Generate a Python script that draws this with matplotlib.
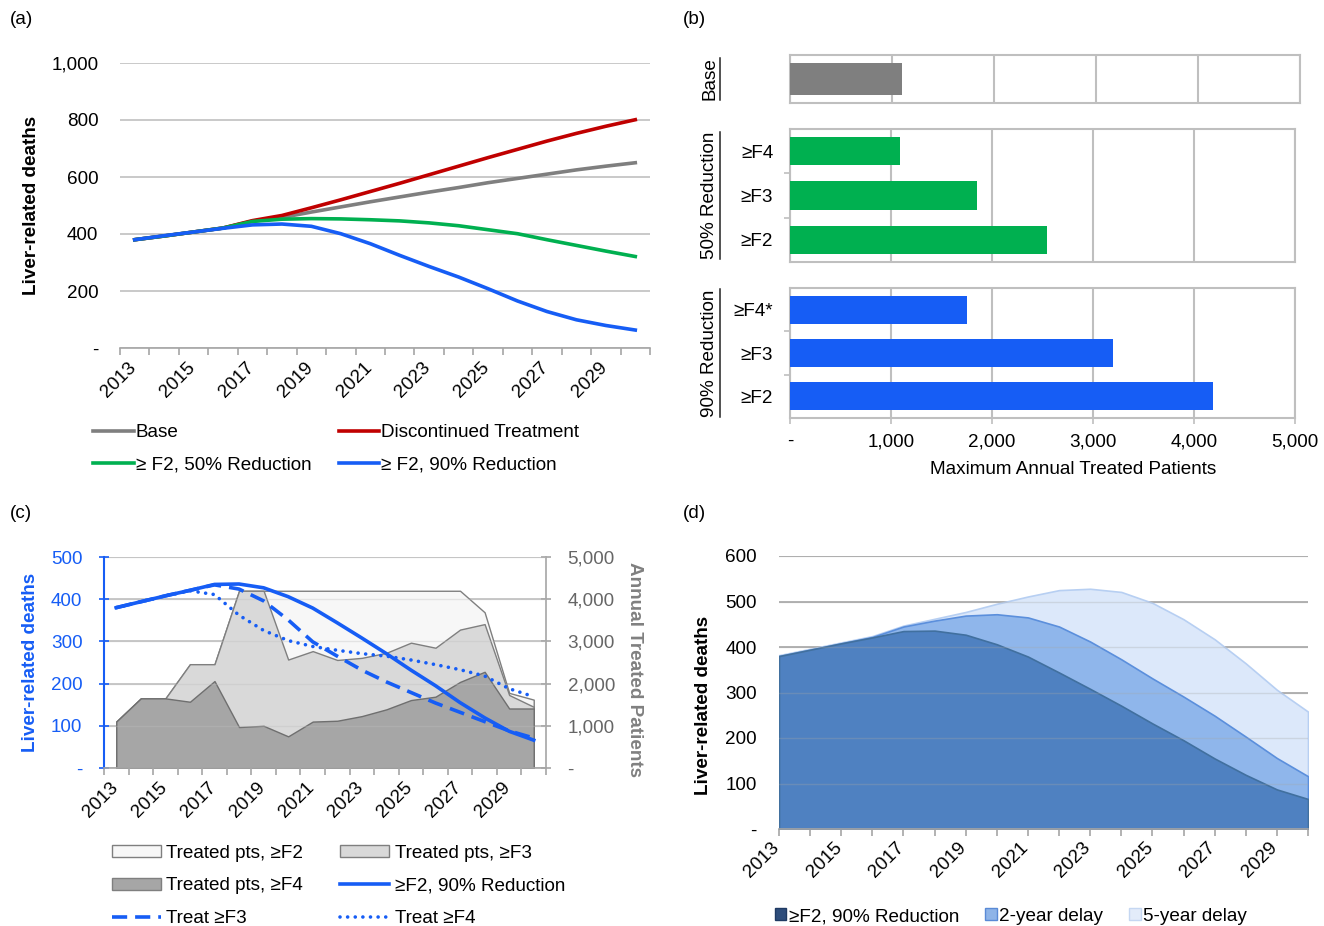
import matplotlib.pyplot as plt
from matplotlib.patches import Patch
from matplotlib.lines import Line2D
from matplotlib.ticker import FuncFormatter
from matplotlib.transforms import ScaledTranslation

plt.rcParams['font.family'] = ['Liberation Sans', 'DejaVu Sans']
plt.rcParams['font.size'] = 13.6

W, H = 1324, 926

# ---- data ----
years = list(range(2013, 2031))

# (a) liver-related deaths per scenario
base_deaths = [380, 393, 407, 421, 445, 458, 477, 495, 513, 530, 547, 563, 580, 595, 610, 625, 638, 650]
disc_deaths = [380, 393, 407, 421, 447, 465, 492, 520, 549, 578, 608, 638, 668, 697, 726, 753, 778, 801]
f2_50_deaths = [380, 393, 407, 421, 444, 452, 454, 453, 450, 446, 439, 429, 415, 401, 380, 360, 340, 321]
f2_90_deaths_a = [380, 394, 407, 420, 432, 435, 427, 401, 366, 325, 286, 249, 208, 165, 128, 99, 79, 63]

# (b) maximum annual treated patients
b_groups = ['Base', '50% Reduction', '90% Reduction']
b_labels = [[''], ['≥F4', '≥F3', '≥F2'], ['≥F4*', '≥F3', '≥F2']]
b_values = [[1100], [1090, 1850, 2540], [1750, 3200, 4190]]

# (c) deaths (left axis) and treated patients (right axis)
f2_90_deaths = [380, 394, 408, 421, 435, 436, 427, 406, 379, 344, 308, 271, 232, 195, 155, 119, 87, 66]
treat_f3_deaths = [380, 394, 408, 421, 434, 424, 396, 351, 299, 265, 232, 204, 179, 154, 132, 110, 88, 71]
treat_f4_deaths = [380, 394, 408, 420, 411, 362, 326, 302, 288, 279, 271, 265, 256, 245, 233, 218, 188, 169]
treated_f2 = [1100, 1650, 1650, 2460, 2460, 4200, 4200, 4200, 4200, 4200, 4200, 4200, 4200, 4200, 4200, 3690, 1780, 1620]
treated_f3 = [1100, 1650, 1650, 2460, 2460, 4200, 4200, 2570, 2770, 2560, 2610, 2730, 2970, 2850, 3280, 3410, 1730, 1450]
treated_f4 = [1100, 1650, 1650, 1570, 2060, 970, 1000, 750, 1100, 1120, 1230, 1390, 1610, 1690, 2040, 2280, 1410, 1410]

# (d) delayed treatment
delay2_deaths = [380, 394, 408, 422, 445, 458, 469, 472, 465, 445, 412, 373, 331, 291, 249, 203, 156, 116]
delay5_deaths = [382, 396, 410, 424, 447, 462, 477, 495, 511, 525, 528, 521, 497, 461, 417, 364, 306, 258]

BLUE = '#165df5'
GREY_AX = '#a6a6a6'


def rect(left, top, right, bottom):
    return [left / W, 1 - bottom / H, (right - left) / W, (bottom - top) / H]


def thousands(v, pos=None):
    return '-' if v == 0 else f'{v:,.0f}'


fig = plt.figure(figsize=(W / 100, H / 100), dpi=100)


def year_axis(ax, on_ticks=False, pad=8, shift=4):
    n = len(years)
    if on_ticks:
        ax.set_xlim(0, n - 1)
        ax.set_xticks(range(n), minor=True)
        ax.tick_params(axis='x', which='major', length=5, color=GREY_AX, width=1.2, pad=pad)
    else:
        ax.set_xlim(-0.5, n - 0.5)
        ax.set_xticks([i - 0.5 for i in range(n + 1)], minor=True)
        ax.tick_params(axis='x', which='major', length=0, pad=pad)
    ax.set_xticks(range(0, n, 2))
    ax.set_xticklabels([str(y) for y in years[::2]], rotation=45, ha='right')
    ax.tick_params(axis='x', which='minor', length=5, color=GREY_AX, width=1.2)
    ax.spines['bottom'].set_color(GREY_AX)
    ax.spines['bottom'].set_linewidth(1.2)
    for lbl in ax.get_xticklabels():
        lbl.set_transform(lbl.get_transform() + ScaledTranslation(shift / 100, 0, fig.dpi_scale_trans))


x = list(range(len(years)))

# ---------------- (a) ----------------
ax = fig.add_axes(rect(120, 63, 650, 348))
l_base, = ax.plot(x, base_deaths, color='#7f7f7f', lw=2.6)
l_disc, = ax.plot(x, disc_deaths, color='#c00000', lw=2.6)
l_50, = ax.plot(x, f2_50_deaths, color='#00b050', lw=2.6)
l_90, = ax.plot(x, f2_90_deaths_a, color=BLUE, lw=2.6)
ax.set_ylim(0, 1000)
ax.set_yticks(range(0, 1001, 200))
ax.yaxis.set_major_formatter(FuncFormatter(thousands))
ax.grid(axis='y', color='#c0c0c0', lw=1.2)
ax.set_axisbelow(True)
for s in ['top', 'right', 'left']:
    ax.spines[s].set_visible(False)
ax.tick_params(axis='y', length=0, pad=15.5)
year_axis(ax, pad=8, shift=5)
fig.text(32 / W, 1 - 205 / H, 'Liver-related deaths', rotation=90, fontweight='bold',
         ha='center', va='center')
ax.legend([l_base, l_50, l_disc, l_90],
          ['Base', '≥ F2, 50% Reduction', 'Discontinued Treatment', '≥ F2, 90% Reduction'],
          ncol=2, loc='upper left', bbox_to_anchor=(93 / W, 1 - 424 / H),
          bbox_transform=fig.transFigure, frameon=False, borderpad=0, borderaxespad=0,
          handlelength=2.15, handletextpad=0.1, columnspacing=1.45, labelspacing=0.82)

# ---------------- (b) ----------------
b_rects = [rect(790, 55, 1300, 103), rect(790, 129, 1295, 262), rect(790, 288, 1295, 418)]
b_colors = ['#7f7f7f', '#00b050', BLUE]
b_heights = [0.67, 0.64, 0.64]
group_texts = []
for k in range(3):
    axb = fig.add_axes(b_rects[k])
    vals = b_values[k]
    n = len(vals)
    pos = list(range(n))[::-1]
    axb.barh(pos, vals, height=b_heights[k], color=b_colors[k], zorder=3)
    axb.set_xlim(0, 5000)
    axb.set_ylim(-0.5, n - 0.5)
    axb.set_xticks(range(0, 5001, 1000))
    axb.xaxis.set_major_formatter(FuncFormatter(thousands))
    axb.grid(axis='x', color='#bfbfbf', lw=1.5)
    axb.set_axisbelow(True)
    for s in axb.spines.values():
        s.set_color('#bfbfbf')
        s.set_linewidth(1.5)
    axb.set_yticks(pos)
    axb.set_yticklabels(b_labels[k])
    axb.tick_params(axis='y', length=0, pad=12)
    if n > 1:
        axb.set_yticks([i + 0.5 for i in range(n - 1)], minor=True)
        axb.tick_params(axis='y', which='minor', length=4, color='#bfbfbf', width=1.2)
    if k == 2:
        axb.tick_params(axis='x', length=4, color='#bfbfbf', width=1.2, pad=7)
    else:
        axb.tick_params(axis='x', length=0, labelbottom=False)
    box = b_rects[k]
    t = fig.text(710 / W, box[1] + box[3] / 2, b_groups[k], rotation=90,
                 ha='center', va='center')
    group_texts.append(t)
fig.text(1073 / W, 1 - 470 / H, 'Maximum Annual Treated Patients', ha='center', va='center')

# ---------------- (c) ----------------
axc = fig.add_axes(rect(104, 557, 546, 768))
axr = axc.twinx()
axc.set_zorder(axr.get_zorder() + 1)
axc.patch.set_visible(False)
axr.fill_between(x, 0, treated_f2, facecolor='#f7f7f7', edgecolor='#7f7f7f', lw=1)
axr.fill_between(x, 0, treated_f3, facecolor='#d9d9d9', edgecolor='#7f7f7f', lw=1)
axr.fill_between(x, 0, treated_f4, facecolor='#a6a6a6', edgecolor='#6f6f6f', lw=1)
axr.set_ylim(0, 5000)
axr.set_yticks(range(0, 5001, 1000))
axr.yaxis.set_major_formatter(FuncFormatter(thousands))
axr.grid(axis='y', color='#bfbfbf', lw=1.2)
axr.set_axisbelow(True)

l_f4, = axc.plot(x, treat_f4_deaths, color=BLUE, lw=2.6, linestyle=(0, (0.01, 2.1)),
                 dash_capstyle='round')
l_f3, = axc.plot(x, treat_f3_deaths, color=BLUE, lw=2.6, linestyle=(0, (4.2, 2.2)))
l_c90, = axc.plot(x, f2_90_deaths, color=BLUE, lw=2.6)
axc.set_ylim(0, 500)
axc.set_yticks(range(0, 501, 100))
axc.yaxis.set_major_formatter(FuncFormatter(thousands))
axc.grid(axis='y', color='#bfbfbf', lw=1.0, alpha=0.35)

for s in ['top', 'right']:
    axc.spines[s].set_visible(False)
for s in ['top', 'left', 'bottom']:
    axr.spines[s].set_visible(False)
axc.spines['left'].set_color(BLUE)
axc.spines['left'].set_linewidth(1.5)
axr.spines['right'].set_color(GREY_AX)
axr.spines['right'].set_linewidth(1.2)
axc.tick_params(axis='y', direction='inout', length=7, width=1.2, color=BLUE,
                labelcolor=BLUE, pad=12)
axr.tick_params(axis='y', direction='inout', length=7, width=1.2, color=GREY_AX,
                labelcolor='#666666', pad=12)
year_axis(axc, pad=8, shift=5)
fig.text(31 / W, 1 - 662 / H, 'Liver-related deaths', rotation=90, fontweight='bold',
         color=BLUE, ha='center', va='center')
fig.text(634 / W, 1 - 669 / H, 'Annual Treated Patients', rotation=270, fontweight='bold',
         color='#808080', ha='center', va='center')
h_f2 = Patch(facecolor='#f7f7f7', edgecolor='#7f7f7f')
h_f3 = Patch(facecolor='#d9d9d9', edgecolor='#7f7f7f')
h_f4 = Patch(facecolor='#a6a6a6', edgecolor='#7f7f7f')
axc.legend([h_f2, h_f4, l_f3, h_f3, l_c90, l_f4],
           ['Treated pts, ≥F2', 'Treated pts, ≥F4', 'Treat ≥F3',
            'Treated pts, ≥F3', '≥F2, 90% Reduction', 'Treat ≥F4'],
           ncol=2, loc='upper left', bbox_to_anchor=(112 / W, 1 - 845 / H),
           bbox_transform=fig.transFigure, frameon=False, borderpad=0, borderaxespad=0,
           handlelength=2.6, handleheight=0.6, handletextpad=0.28, columnspacing=1.95,
           labelspacing=0.82)

# ---------------- (d) ----------------
axd = fig.add_axes(rect(779, 556, 1308, 829))
axd.fill_between(x, 0, delay5_deaths, facecolor='#dce8fa', edgecolor='#b7cff2', lw=1.2)
axd.fill_between(x, 0, delay2_deaths, facecolor='#8fb6eb', edgecolor='#5b8fdc', lw=1.2)
axd.fill_between(x, 0, f2_90_deaths, facecolor='#4f81c1', edgecolor='#41709f', lw=1.2)
axd.set_ylim(0, 600)
axd.set_yticks(range(0, 601, 100))
axd.yaxis.set_major_formatter(FuncFormatter(thousands))
axd.grid(axis='y', color='#a6a6a6', lw=1.2)
axd.set_axisbelow(True)
for yv in range(100, 601, 100):
    axd.axhline(yv, color='#a6a6a6', lw=1.0, alpha=0.3, zorder=5)
for s in ['top', 'right', 'left']:
    axd.spines[s].set_visible(False)
axd.tick_params(axis='y', length=0, pad=16)
year_axis(axd, on_ticks=True, pad=2, shift=4)
fig.text(703 / W, 1 - 705 / H, 'Liver-related deaths', rotation=90, fontweight='bold',
         ha='center', va='center')
axd.legend([Patch(facecolor='#2e4d7b', edgecolor='#1f3a63'),
            Patch(facecolor='#8eb4e8', edgecolor='#5a8ad6'),
            Patch(facecolor='#e3ecfa', edgecolor='#c5d7f2')],
           ['≥F2, 90% Reduction', '2-year delay', '5-year delay'],
           ncol=3, loc='upper left', bbox_to_anchor=(775 / W, 1 - 908 / H),
           bbox_transform=fig.transFigure, frameon=False, borderpad=0, borderaxespad=0,
           handlelength=0.6, handleheight=0.6, handletextpad=0.12, columnspacing=1.4)

# panel labels
for lab, px, py in [('(a)', 10, 20), ('(b)', 683, 20), ('(c)', 10, 513), ('(d)', 683, 513)]:
    fig.text(px / W, 1 - py / H, lab, ha='left', va='center')

# underline the rotated group labels of (b)
fig.canvas.draw()
renderer = fig.canvas.get_renderer()
for t in group_texts:
    bb = t.get_window_extent(renderer).transformed(fig.transFigure.inverted())
    ux = bb.x1 + 1.0 / W
    fig.add_artist(Line2D([ux, ux], [bb.y0, bb.y1], color='#222222', lw=1.1,
                          transform=fig.transFigure))

fig.savefig('out.png', dpi=100)
